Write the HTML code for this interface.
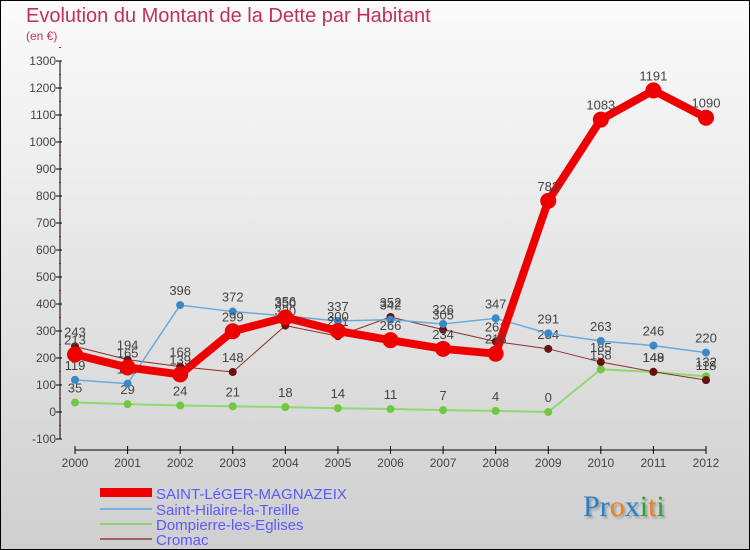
<!DOCTYPE html>
<html><head><meta charset="utf-8"><style>
body{margin:0}
svg{display:block;font-family:"Liberation Sans",sans-serif}
</style></head><body>
<svg id="c" width="750" height="550" viewBox="0 0 750 550">
<defs><linearGradient id="bg" x1="0" y1="0" x2="0" y2="1"><stop offset="0" stop-color="#fbfbfb"/><stop offset="1" stop-color="#cfcfcf"/></linearGradient></defs>
<rect x="0.5" y="0.5" width="749" height="549" fill="url(#bg)" stroke="#000"/>
<text x="26" y="22" font-size="20" fill="#c0305f">Evolution du Montant de la Dette par Habitant</text>
<text x="26" y="40" font-size="12" fill="#c0305f">(en €)</text>
<g id="axes"></g><g id="series"></g>
<g font-size="15" fill="#5a5aff">
<rect x="100" y="488" width="52" height="9" fill="#e00"/>
<text x="156" y="499">SAINT-LéGER-MAGNAZEIX</text>
<rect x="100" y="508" width="52" height="2" fill="#7aaee0"/>
<text x="156" y="515">Saint-Hilaire-la-Treille</text>
<rect x="100" y="523" width="52" height="2" fill="#90d070"/>
<text x="156" y="530">Dompierre-les-Eglises</text>
<rect x="100" y="538" width="52" height="2" fill="#a06060"/>
<text x="156" y="545">Cromac</text>
</g>
<text x="583" y="516" font-size="30" font-family="Liberation Serif,serif" style="text-shadow:2px 2px 2px #999"><tspan fill="#2a80c8">Pr</tspan><tspan fill="#f08020">o</tspan><tspan fill="#2a80c8">x</tspan><tspan fill="#30a040">i</tspan><tspan fill="#f08020">t</tspan><tspan fill="#30a040">i</tspan></text>
</svg>
<script>
const years=["2000","2001","2002","2003","2004","2005","2006","2007","2008","2009","2010","2011","2012"];
const yTicks=[-100,0,100,200,300,400,500,600,700,800,900,1000,1100,1200,1300];
const saintLeger=[213,165,139,299,350,300,266,234,216,782,1083,1191,1090];
const saintHilaire=[119,105,396,372,356,337,342,326,347,291,263,246,220];
const dompierre=[35,29,24,21,18,14,11,7,4,0,158,148,132];
const cromac=[243,194,168,148,320,281,352,305,261,234,185,149,118];
const NS="http://www.w3.org/2000/svg";
function xS(i){return 75+i*(706-75)/12;}
function yS(v){return 412-v*(412-61)/1300;}
function mk(tag,attrs,parent){const e=document.createElementNS(NS,tag);for(const k in attrs)e.setAttribute(k,attrs[k]);parent.appendChild(e);return e;}
const ax=document.getElementById('axes');
let yl=mk('line',{x1:60,y1:yS(1300),x2:60,y2:yS(-100),stroke:'#000'},ax);


yTicks.forEach(v=>{
 const g=mk('g',{},ax);
 
 
 mk('line',{x1:56,x2:62,y1:yS(v),y2:yS(v),stroke:'#000'},g);
 const t=mk('text',{x:56,y:yS(v)+4,'font-size':12,'text-anchor':'end',fill:'#444'},g);t.textContent=v;
 mk('line',{x1:59,x2:61,y1:yS(v+50),y2:yS(v+50),stroke:'#e00'},g);
});
let xl=mk('line',{x1:75,y1:450,x2:706,y2:450,stroke:'#000'},ax);


years.forEach((y,i)=>{
 const g=mk('g',{},ax);
 
 
 mk('line',{x1:xS(i),x2:xS(i),y1:446,y2:454,stroke:'#000'},g);
 const t=mk('text',{x:xS(i),y:467,'font-size':12,'text-anchor':'middle',fill:'#444'},g);t.textContent=y;
});
const se=document.getElementById('series');
function draw(name,data,color,w,r,ptFill){
 const g=mk('g',{},se);
 
 
 const l=mk('polyline',{points:data.map((v,i)=>xS(i)+','+yS(v)).join(' '),fill:'none',stroke:color,'stroke-width':w,'stroke-linejoin':'round'},g);
 
 
 data.forEach((v,i)=>{
  const c=mk('circle',{cx:xS(i),cy:yS(v),r:r,fill:ptFill},g);
  
  
  const t=mk('text',{x:xS(i),y:yS(v)-10,'font-size':13,'text-anchor':'middle',fill:'#444'},g);
  t.textContent=v;
  
  
 });
}
draw('dompierre',dompierre,'#90d870',2,4,'#70c840');
draw('cromac',cromac,'#8a3030',1,4,'#6a1010');
draw('saint-hilaire',saintHilaire,'#6aaad8',1.5,4,'#3a88c8');
draw('saint-leger',saintLeger,'#ee0000',8,8,'#ee0000');
</script>
</body></html>
